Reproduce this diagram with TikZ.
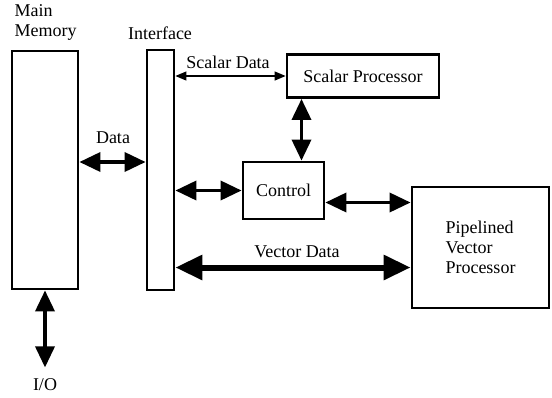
\documentclass[tikz,border=0pt]{standalone}
\usepackage{fontspec}
\setmainfont{Liberation Serif}
\usepackage{tikz}
\usetikzlibrary{arrows.meta}

\tikzset{
    unit/.style={draw, line width=2.8pt, inner sep=0pt},
    thinarrow/.style={line width=1.2pt, {Triangle[length=11pt,width=9pt]}-{Triangle[length=11pt,width=9pt]}},
    midarrow/.style={line width=3.5pt, {Triangle[length=21pt,width=19pt]}-{Triangle[length=21pt,width=19pt]}},
    bigarrow/.style={line width=6pt, {Triangle[length=27pt,width=24pt]}-{Triangle[length=27pt,width=24pt]}}
}

\begin{document}
\begin{tikzpicture}[x=1pt, y=-1pt, font=\fontsize{18}{20}\selectfont]
        \useasboundingbox (0,0) rectangle (552,397);

        % Boxes
        \node[unit, minimum width=66pt, minimum height=238pt] (mem) at (45,170) {};
        \node[unit, minimum width=27pt, minimum height=240pt] (iface) at (160.5,170) {};
        \node[unit, minimum width=152pt, minimum height=43pt] (sp) at (363,76) {Scalar Processor};
        \node[unit, minimum width=81pt, minimum height=57pt] (ctl) at (283.5,190.5) {Control};
        \node[unit, minimum width=137pt, minimum height=121pt, align=left] (pvp) at (480.5,247.5) {Pipelined\\Vector\\Processor};

        % Names over the boxes
        \node[anchor=west, align=left] (memname) at (11,22) {Main\\Memory};
        \node (ifname) at (160,33) {Interface};

        % Names of the data paths
        \node (sdname) at (228,62) {Scalar Data};
        \node (dname) at (113,138) {Data};
        \node (vdname) at (297,252) {Vector Data};
        \node (io) at (45,385) {I/O};

        % Points where the paths leave off centre
        \coordinate (dat) at ([yshift=8pt]mem.east);
        \coordinate (sc) at ([xshift=18pt]ctl.north);
        \coordinate (cv) at ([yshift=-12pt]ctl.east);
        \coordinate (vd) at ([yshift=-20pt]pvp.west);

        % Data paths
        \draw[midarrow] (dat) -- (dat -| iface.west);
        \draw[thinarrow] (iface.east |- sp.west) -- (sp.west);
        \draw[midarrow] (iface.east |- ctl.west) -- (ctl.west);
        \draw[midarrow] (sc |- sp.south) -- (sc);
        \draw[midarrow] (cv) -- (cv -| pvp.west);
        \draw[bigarrow] (vd -| iface.east) -- (vd);
        \draw[midarrow, shorten >=8pt] (mem.south) -- (io.north);

    \end{tikzpicture}
\end{document}
